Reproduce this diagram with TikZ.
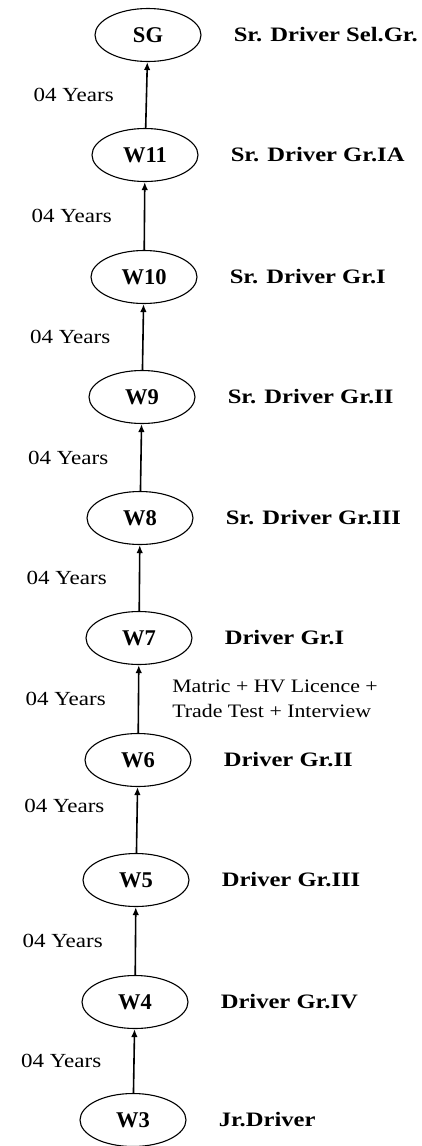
\documentclass[tikz,border=0pt]{standalone}
\usepackage{fontspec}
\setmainfont{Liberation Serif}
\newfontfamily\widefont{Liberation Serif}[FakeStretch=1.15]
\newfontfamily\widebold{Liberation Serif Bold}[FakeStretch=1.2]
\usetikzlibrary{positioning,shapes.geometric,arrows.meta}
\begin{document}
\begin{tikzpicture}[x=1pt,y=-1pt,
  gradebox/.style={draw, ellipse, line width=1.1pt, minimum width=106pt, minimum height=53pt, inner sep=0pt, font=\fontsize{22.5}{22.5}\selectfont\bfseries},
  postlabel/.style={right=32pt of #1, inner sep=0pt, font=\widebold\fontsize{20.5}{20.5}\selectfont},
  yearslabel/.style={left=32pt, inner sep=0pt, font=\widefont\fontsize{20}{20}\selectfont},
  uparrow/.style={line width=1.6pt, -{Latex[length=8pt,width=6.5pt]}}]
\useasboundingbox (0,0) rectangle (422,1146);
\node[gradebox] (SG) at (148,35) {SG};
\node[gradebox] (W11) at (145,155) {W11};
\node[gradebox] (W10) at (144,277) {W10};
\node[gradebox] (W9) at (142,397) {W9};
\node[gradebox] (W8) at (140,518) {W8};
\node[gradebox] (W7) at (139,638) {W7};
\node[gradebox] (W6) at (138,760) {W6};
\node[gradebox] (W5) at (136,880) {W5};
\node[gradebox] (W4) at (135,1002) {W4};
\node[gradebox] (W3) at (133,1120) {W3};
\node[postlabel=SG] (pSG) {Sr. Driver Sel.Gr.};
\node[postlabel=W11] (pW11) {Sr. Driver Gr.IA};
\node[postlabel=W10] (pW10) {Sr. Driver Gr.I};
\node[postlabel=W9] (pW9) {Sr. Driver Gr.II};
\node[postlabel=W8] (pW8) {Sr. Driver Gr.III};
\node[postlabel=W7] (pW7) {Driver Gr.I};
\node[postlabel=W6] (pW6) {Driver Gr.II};
\node[postlabel=W5] (pW5) {Driver Gr.III};
\node[postlabel=W4] (pW4) {Driver Gr.IV};
\node[postlabel=W3] (pW3) {Jr.Driver};
% promotion arrows
\draw[uparrow] (W11) -- (SG) node[yearslabel, midway] (y11) {04 Years};
\draw[uparrow] (W10) -- (W11) node[yearslabel, midway] (y10) {04 Years};
\draw[uparrow] (W9) -- (W10) node[yearslabel, midway] (y9) {04 Years};
\draw[uparrow] (W8) -- (W9) node[yearslabel, midway] (y8) {04 Years};
\draw[uparrow] (W7) -- (W8) node[yearslabel, midway] (y7) {04 Years};
\draw[uparrow] (W6) -- (W7) node[yearslabel, midway] (y6) {04 Years}
  node[midway, right=33pt, inner sep=0pt, align=left, font=\widefont\fontsize{19}{25}\selectfont] (cond) {Matric + HV Licence +\\Trade Test + Interview};
\draw[uparrow] (W5) -- (W6) node[yearslabel, pos=0.72] (y5) {04 Years};
\draw[uparrow] (W4) -- (W5) node[yearslabel, midway] (y4) {04 Years};
\draw[uparrow] (W3) -- (W4) node[yearslabel, midway] (y3) {04 Years};
\end{tikzpicture}
\end{document}
